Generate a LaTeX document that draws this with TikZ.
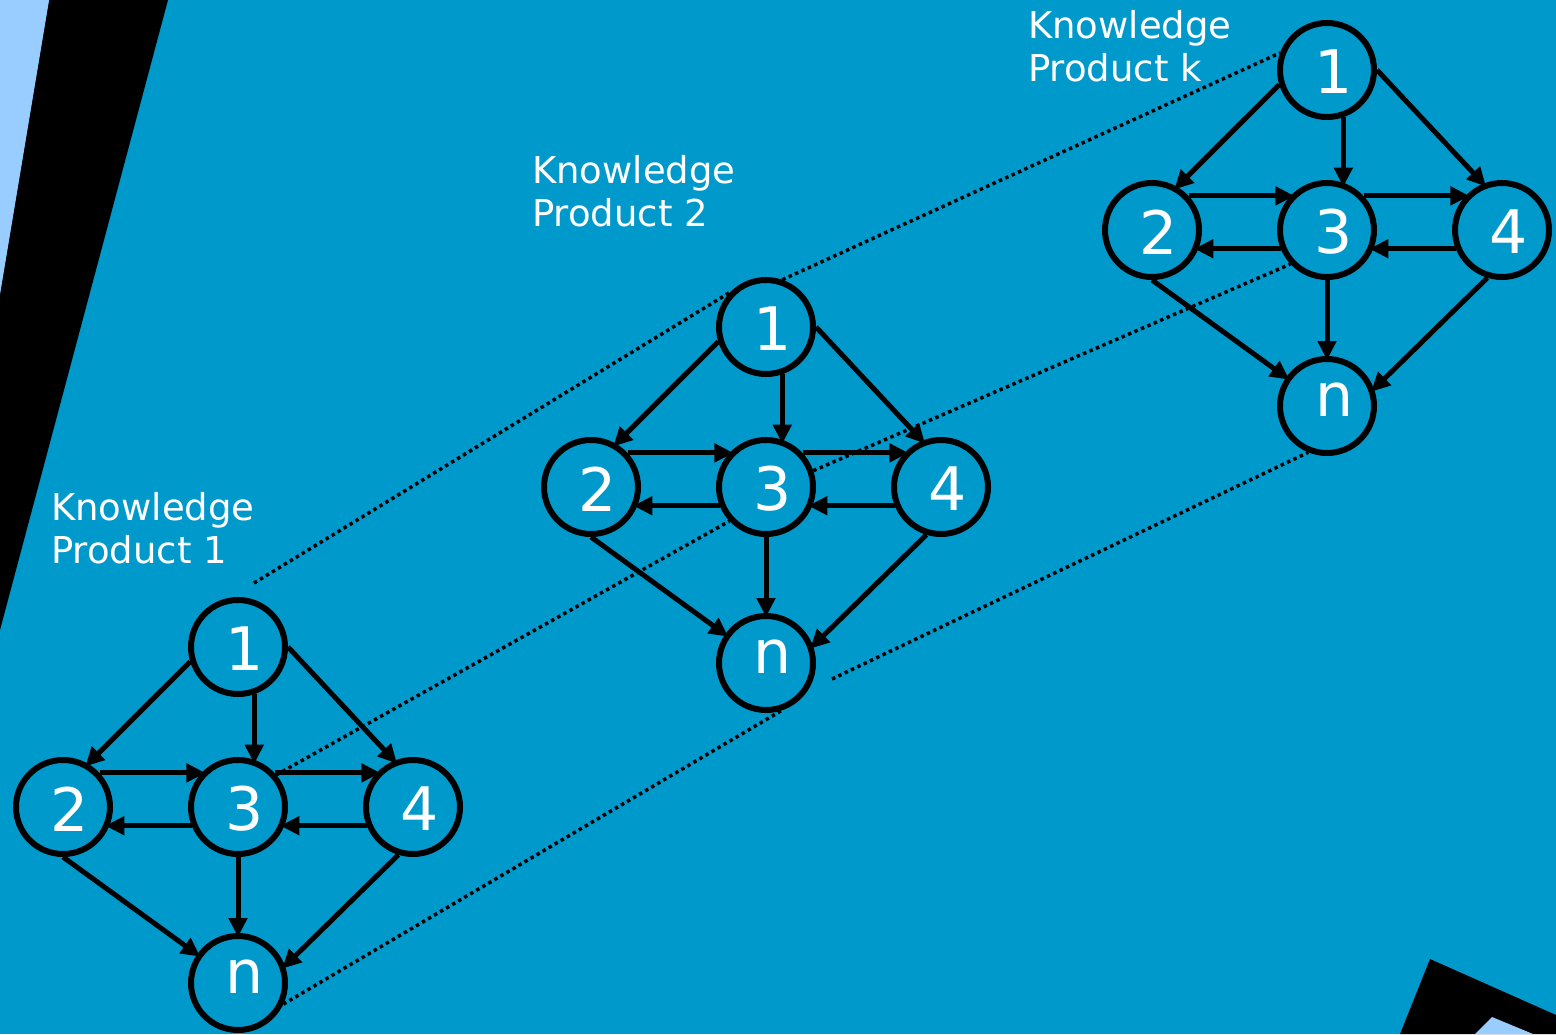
\documentclass[tikz,border=0pt]{standalone}
\usepackage{fontspec}
\setmainfont{DejaVu Sans}
\usetikzlibrary{arrows.meta}
\definecolor{sea}{HTML}{0099CC}
\definecolor{sky}{HTML}{99CCFF}
\tikzset{
  kn/.style={circle, draw=black, line width=6pt, minimum size=94pt, inner sep=0pt},
  knum/.style={text=white, font=\fontsize{60}{60}\selectfont, xshift=7pt, yshift=-2pt},
  link/.style={draw=black, line width=5pt, shorten >=-4pt,
    -{Triangle[length=19pt,width=18pt]}},
  trace/.style={draw=black, line width=3.5pt, dash pattern=on 3.5pt off 3.5pt},
  caption/.style={text=white, font=\fontsize{37}{43}\selectfont, align=left,
    anchor=base west, inner sep=0pt},
}
% one knowledge product: nodes 1,2,3,4,n and their links
\newcommand\kgraph[3]{%
  \begin{scope}[shift={(#2,#3)}]
    \node[kn, label={[knum]center:1}] (#11) at (0,0) {};
    \node[kn, label={[knum]center:2}] (#12) at (-175,160) {};
    \node[kn, label={[knum]center:3}] (#13) at (0,160) {};
    \node[kn, label={[knum]center:4}] (#14) at (175,160) {};
    \node[kn, label={[knum,yshift=8pt]center:n}] (#1n) at (0,336) {};
  \end{scope}
  \draw[link] (#11.197) -- (#12.60);
  \draw[link] (#11.289) -- (#13.71);
  \draw[link] (#11.0)   -- (#14.112);
  \draw[link] (#12.43)  -- (#13.137);
  \draw[link] (#13.202) -- (#12.338);
  \draw[link] (#13.43)  -- (#14.137);
  \draw[link] (#14.202) -- (#13.338);
  \draw[link] (#12.270) -- (#1n.145);
  \draw[link] (#13.270) -- (#1n.90);
  \draw[link] (#14.253) -- (#1n.20);
}
\begin{document}
\begin{tikzpicture}[x=1pt, y=-1pt]
  \useasboundingbox (0,0) rectangle (1556,1034);
  \fill[sea] (0,0) rectangle (1556,1034);
  % slanted corner bands
  \fill[black] (49,0) -- (168,0) -- (0,630) -- (0,294) -- cycle;
  \fill[sky] (0,0) -- (49,0) -- (0,294) -- cycle;
  \fill[black] (1430,959) -- (1556,1015) -- (1556,1034) -- (1400,1034) -- cycle;
  \fill[sky] (1492,1017) -- (1533,1034) -- (1475,1034) -- cycle;

  \kgraph{a}{238}{647}
  \kgraph{b}{766}{327}
  \kgraph{c}{1327}{70}

  % captions: the base anchor sits on the second line
  \node[caption] (t1) at (51,563) {Knowledge\\Product 1};
  \node[caption] (t2) at (532,226) {Knowledge\\Product 2};
  \node[caption] (tk) at (1028,81) {Knowledge\\Product k};

  % dotted traces linking the products
  \coordinate (s1) at (254,583);
  \coordinate (s2) at (832,679);
  \draw[trace] (s1) -- (b1.136);
  \draw[trace] (b1.71) -- (c1.160);
  \draw[trace] (a3.40) -- (b3.223);
  \draw[trace] (b3.19) -- (c3.223);
  \draw[trace] (an.335) -- (bn.288);
  \draw[trace] (s2) -- (cn.248);
\end{tikzpicture}
\end{document}
